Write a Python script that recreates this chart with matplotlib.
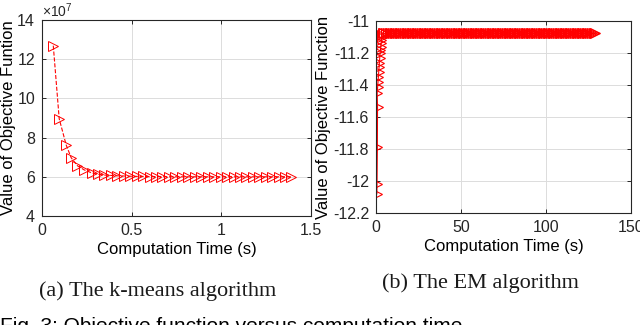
import matplotlib
matplotlib.use('Agg')
import matplotlib.pyplot as plt
import numpy as np
from matplotlib.ticker import FormatStrFormatter

plt.rcParams['font.family'] = ['Liberation Sans', 'DejaVu Sans']
plt.rcParams['axes.unicode_minus'] = False
plt.rcParams['mathtext.fontset'] = 'custom'
plt.rcParams['mathtext.rm'] = 'Liberation Sans'
plt.rcParams['mathtext.it'] = 'Liberation Sans'

# k-means: objective (x1e7) vs computation time
km_time = [0.063, 0.096, 0.135, 0.163, 0.198, 0.236, 0.277, 0.312, 0.348, 0.384,
           0.420, 0.456, 0.492, 0.528, 0.564, 0.600, 0.636, 0.672, 0.708, 0.744,
           0.780, 0.816, 0.852, 0.888, 0.924, 0.960, 0.996, 1.032, 1.068, 1.104,
           1.140, 1.176, 1.212, 1.248, 1.284, 1.320, 1.356, 1.389]
km_obj = [12.69, 8.96, 7.62, 6.97, 6.56, 6.35, 6.20, 6.13, 6.09, 6.07,
          6.05, 6.04, 6.03, 6.02, 6.02, 6.01, 6.01, 6.01, 6.00, 6.00,
          6.00, 6.00, 6.00, 6.00, 6.00, 6.00, 6.00, 6.00, 6.00, 6.00,
          6.00, 6.00, 6.00, 6.00, 6.00, 6.00, 6.00, 6.00]

# EM: early iterations
em_time = [0.5, 0.6, 0.8, 0.9, 0.7, 1.0, 1.2, 1.4, 1.6, 1.8, 2.0, 2.2, 2.4,
           2.6, 2.8, 3.0, 3.2, 3.4, 3.6]
em_obj = [-12.08, -12.02, -11.79, -11.54, -11.45, -11.41, -11.38, -11.35,
          -11.32, -11.29, -11.26, -11.23, -11.20, -11.18, -11.16, -11.14,
          -11.12, -11.10, -11.085]
# EM: converged iterations (plateau)
em_plateau_time = [4, 5, 6, 7, 8, 9, 10, 11, 12, 13, 14, 15, 16, 17, 18, 19, 20,
                   21, 22, 23, 24, 25, 26, 27, 28, 29, 30, 31, 32, 33, 34, 35, 36,
                   37, 38, 39, 40, 41, 42, 43, 44, 45, 46, 47, 48, 49, 50, 51, 52,
                   53, 54, 55, 56, 57, 58, 59, 60, 61, 62, 63, 64, 65, 66, 67, 68,
                   69, 70, 71, 72, 73, 74, 75, 76, 77, 78, 79, 80, 81, 82, 83, 84,
                   85, 86, 87, 88, 89, 90, 91, 92, 93, 94, 95, 96, 97, 98, 99, 100,
                   101, 102, 103, 104, 105, 106, 107, 108, 109, 110, 111, 112, 113,
                   114, 115, 116, 117, 118, 119, 120, 121, 122, 123, 124, 125, 126,
                   127, 128, 129]
em_plateau_obj = -11.077

fig = plt.figure(figsize=(6.4, 3.25), dpi=100)
ax1 = fig.add_axes([0.0656, 0.3354, 0.4203, 0.6031])
ax2 = fig.add_axes([0.5875, 0.3446, 0.3984, 0.5908])

red = '#ff0000'

ax1.plot(km_time, km_obj, '--', color=red, lw=0.8, marker='>', ms=6.5,
         mfc='none', mec=red, mew=0.7)
ax1.set_xlim(0, 1.5)
ax1.set_ylim(4, 14)
ax1.set_xticks([0, 0.5, 1, 1.5])
ax1.set_yticks([4, 6, 8, 10, 12, 14])
ax1.xaxis.set_major_formatter(FormatStrFormatter('%g'))
ax1.set_xlabel('Computation Time (s)', fontsize=12, labelpad=3)
ax1.set_ylabel('Value of Objective Funtion', fontsize=12, labelpad=1)
ax1.text(0.0, 1.0, r'$\times 10^{7}$', transform=ax1.transAxes,
         fontsize=10, color='#262626', ha='left', va='bottom')

all_t = em_time + em_plateau_time
all_v = em_obj + [em_plateau_obj] * len(em_plateau_time)
ax2.plot(all_t, all_v, '-', color=red, lw=0.8, marker='>', ms=7,
         mfc='none', mec=red, mew=0.8)
ax2.set_xlim(0, 150)
ax2.set_ylim(-12.2, -11)
ax2.set_xticks([0, 50, 100, 150])
ax2.set_yticks([-12.2, -12, -11.8, -11.6, -11.4, -11.2, -11])
ax2.yaxis.set_major_formatter(FormatStrFormatter('%g'))
ax2.set_xlabel('Computation Time (s)', fontsize=12, labelpad=3)
ax2.set_ylabel('Value of Objective Function', fontsize=12, labelpad=1)

for ax in (ax1, ax2):
    ax.grid(True, color='#dcdcdc', lw=0.7)
    ax.set_axisbelow(True)
    ax.tick_params(direction='in', length=3, width=0.7, top=True, right=True,
                   labelsize=11.5, colors='#262626', pad=5)
    for s in ax.spines.values():
        s.set_color('#262626')
        s.set_linewidth(0.8)

fig.text(158 / 640, 1 - 296 / 325, '(a) The k-means algorithm', family='Liberation Serif',
         fontsize=16, ha='center', va='baseline', color='#1a1a1a')
fig.text(480 / 640, 1 - 288 / 325, '(b) The EM algorithm', family='Liberation Serif',
         fontsize=16, ha='center', va='baseline', color='#1a1a1a')
fig.text(0.0, 1 - 332 / 325, 'Fig. 3: Objective function versus computation time',
         fontsize=15, ha='left', va='baseline', color='black')

fig.savefig('out.png', dpi=100)
